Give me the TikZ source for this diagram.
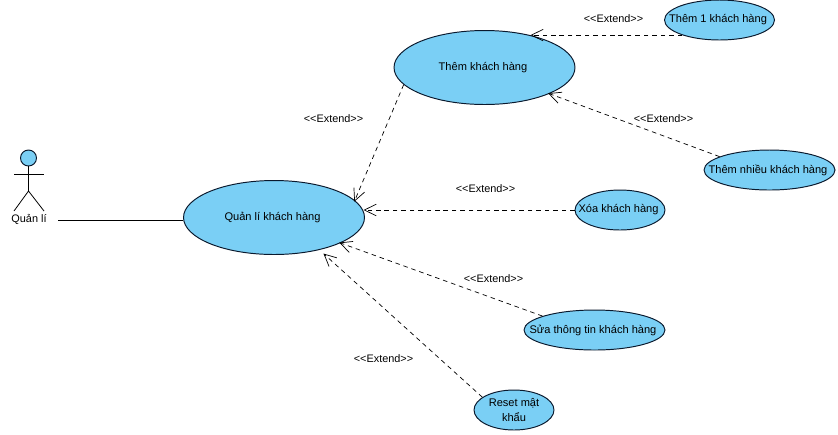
\documentclass[tikz,border=0pt]{standalone}
\usepackage{fontspec}
\setmainfont{Liberation Sans}
\definecolor{ucblue}{RGB}{122,207,245}
\definecolor{ucline}{RGB}{10,25,45}
\usetikzlibrary{arrows.meta,shapes.geometric}
\newcommand{\uctext}[1]{\raisebox{-0.7pt}{\makebox[0pt]{#1\hspace{1.7pt}}}}
\begin{document}
\begin{tikzpicture}[x=0.02cm,y=-0.02cm,
  ucase/.style={draw=ucline,ellipse,fill=ucblue,inner sep=0pt,line width=0.55pt,minimum height=#1,font=\fontsize{6.3}{8.2}\selectfont,align=center},
  ucase/.default=0.8cm,
  extlabel/.style={inner sep=0pt,font=\fontsize{6.2}{8}\selectfont},
  extend/.style={draw,dashed,dash pattern=on 2.6pt off 2.2pt,line width=0.4pt,shorten >=-0.8pt,-{Straight Barb[length=6.8pt,width=6.6pt]}},
  actorline/.style={draw,line width=0.45pt}]
  \useasboundingbox (0,0) rectangle (838,434);
  % Actor
  \node[circle,draw=ucline,fill=ucblue,inner sep=0pt,line width=0.55pt,minimum size=0.32cm] (head) at (28.5,158) {};
  \coordinate (hip) at (28.5,191);
  \coordinate (armL) at (14,174);
  \coordinate (armR) at (44,174);
  \coordinate (legL) at (14,211);
  \coordinate (legR) at (44,211);
  \draw[actorline] (head) -- (hip);
  \draw[actorline] (armL) -- (armR);
  \draw[actorline] (legL) -- (hip) -- (legR);
  \node[extlabel] (actor) at (29,219) {Quản lí};
  % Use cases
  \node[ucase=1.48cm,minimum width=3.62cm] (qlkh) at (274,217.5) {\uctext{Quản lí khách hàng}};
  \node[ucase=1.48cm,minimum width=3.62cm] (themkh) at (484.5,67.5) {\uctext{Thêm khách hàng}};
  \node[ucase,minimum width=2.2cm] (them1) at (719.5,20) {\uctext{Thêm 1 khách hàng}};
  \node[ucase,minimum width=2.62cm] (themnhieu) at (769.5,170) {\uctext{Thêm nhiều khách hàng}};
  \node[ucase,minimum width=1.8cm] (xoa) at (620,210) {\uctext{Xóa khách hàng}};
  \node[ucase,minimum width=2.82cm] (sua) at (594.5,330) {\uctext{Sửa thông tin khách hàng}};
  \node[ucase,minimum width=1.6cm] (reset) at (514,410) {\raisebox{-0.6pt}{Reset mật}\\\raisebox{-0.6pt}{khẩu}};
  % Association
  \coordinate (assocstart) at (58,220);
  \draw[actorline] (assocstart) -- (assocstart -| qlkh.west);
  % Extend links
  \coordinate (resettip) at (324.5,254.5);
  \draw[extend] (them1.202) -- (them1.202 -| themkh.34.5);
  \draw[extend] (themnhieu.165.3) -- (themkh.-22.4);
  \draw[extend] (themkh.192.6) -- (qlkh.12.2);
  \draw[extend] (xoa.west) -- (xoa.west -| qlkh.east);
  \draw[extend] (sua.165.6) -- (qlkh.-21.9);
  \draw[extend] (reset.158) -- (resettip);
  % Labels
  \node[extlabel] (ext1) at (613.5,18.5) {{<}{<}Extend{>}{>}};
  \node[extlabel] (ext2) at (663.5,118.5) {{<}{<}Extend{>}{>}};
  \node[extlabel] (ext3) at (333.5,118.5) {{<}{<}Extend{>}{>}};
  \node[extlabel] (ext4) at (485.5,188.5) {{<}{<}Extend{>}{>}};
  \node[extlabel] (ext5) at (493.5,278.5) {{<}{<}Extend{>}{>}};
  \node[extlabel] (ext6) at (383.5,358.5) {{<}{<}Extend{>}{>}};
\end{tikzpicture}
\end{document}
